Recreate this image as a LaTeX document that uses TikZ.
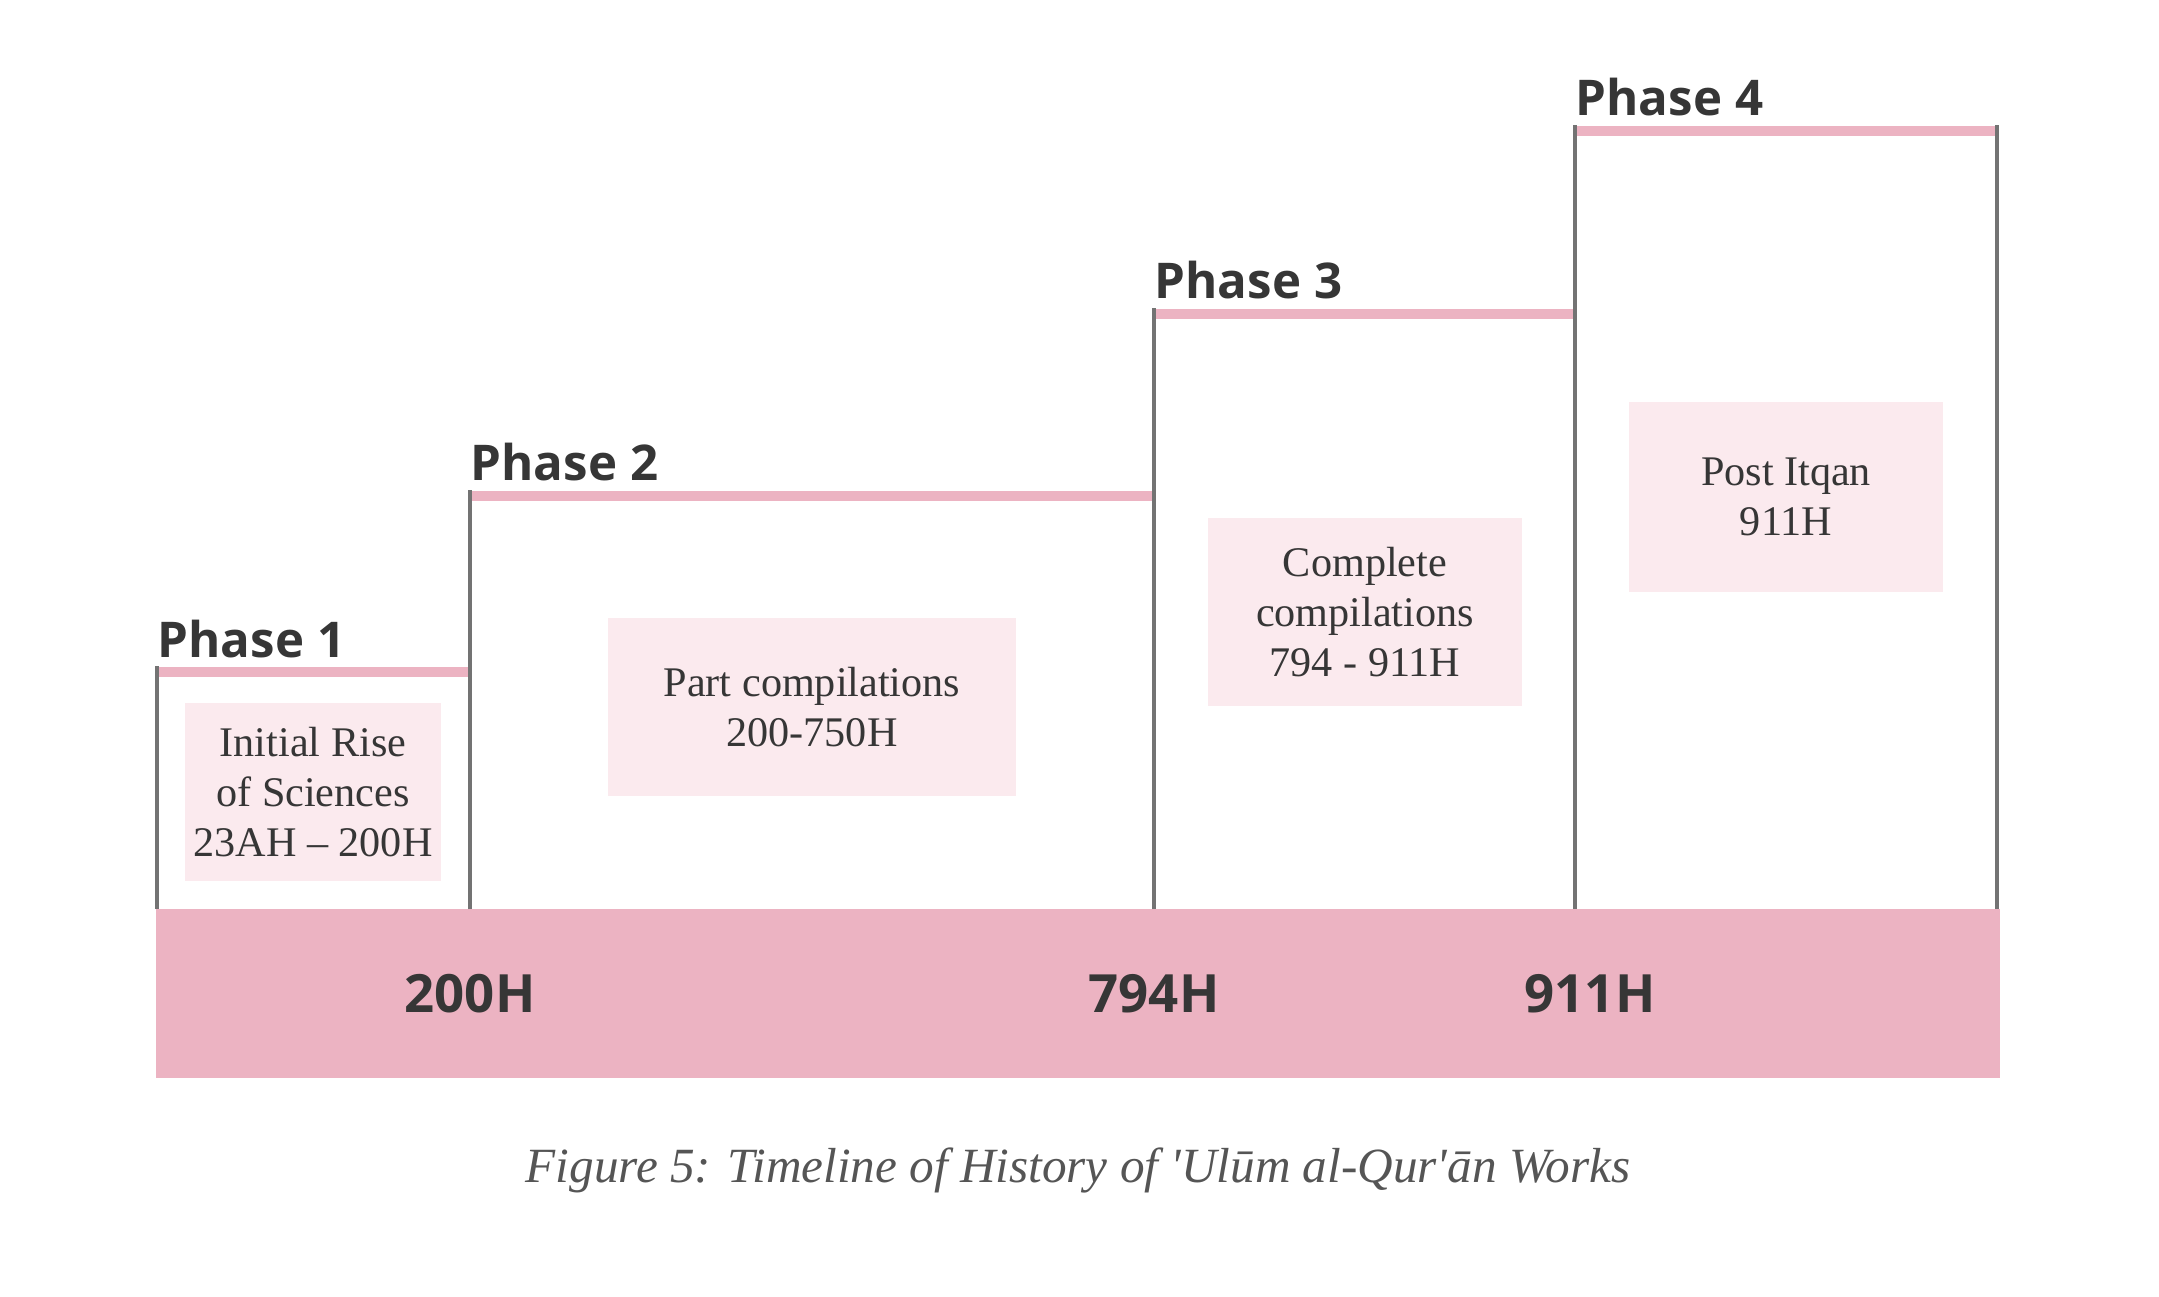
\documentclass[tikz,border=0pt]{standalone}
\usepackage{fontspec}
\setmainfont{Liberation Serif}
\newfontfamily\headfont{Open Sans}
\usetikzlibrary{positioning}
\definecolor{band}{HTML}{ECB3C2}
\definecolor{erafill}{HTML}{FBEAEE}
\definecolor{stemgray}{HTML}{737373}
\definecolor{ink}{HTML}{363636}
\definecolor{captext}{HTML}{555555}
\tikzset{
  phase/.style={anchor=base west, inner sep=0pt, text=ink,
                font=\headfont\bfseries\fontsize{14}{16}\selectfont},
  era/.style={fill=erafill, align=center, inner sep=0pt, text=ink,
              font=\fontsize{12}{14.2}\selectfont},
  year/.style={inner sep=0pt, text=ink, font=\headfont\bfseries\fontsize{15}{17}\selectfont},
  stem/.style={draw=stemgray, line width=1.1pt},
  topline/.style={draw=band, line width=1mm},
}

\begin{document}
\begin{tikzpicture}[x=0.01cm, y=-0.01cm]
  \useasboundingbox (0,0) rectangle (2159,1297);
  % timeline band
  \fill[band] (156,909) rectangle (2000,1078);
  % phase steps
  \foreach \xa/\xb/\ytop/\n in {157/470/672/1, 470/1154/496/2, 1154/1575/314/3, 1575/1997/131/4} {
    \draw[topline] (\xa,\ytop) -- (\xb,\ytop);
    \draw[stem] (\xa,909) -- (\xa,\ytop-6);
    \node[phase] (phase\n) at (\xa,\ytop-15) {Phase \n};
  }
  \draw[stem] (1997,909) -- (1997,125);
  % eras
  \node[era, minimum width=2.56cm, minimum height=1.77cm] (era1) at (313,792)
    {Initial Rise\\of Sciences\\23AH -- 200H};
  \node[era, minimum width=4.07cm, minimum height=1.77cm] (era2) at (812,707)
    {Part compilations\\200-750H};
  \node[era, minimum width=3.14cm, minimum height=1.88cm] (era3) at (1365,612)
    {Complete\\compilations\\794 - 911H};
  \node[era, minimum width=3.14cm, minimum height=1.89cm] (era4) at (1786,497)
    {Post Itqan\\911H};
  % years on the band
  \node[year] (y200) at (470,994) {200H};
  \node[year] (y794) at (1154,994) {794H};
  \node[year] (y911) at (1590,994) {911H};
  % caption
  \node[text=captext, font=\itshape\fontsize{14}{16}\selectfont] (caption) at (1078,1170)
    {Figure 5: Timeline of History of \textquotesingle Ulūm al-Qur\textquotesingle ān Works};
\end{tikzpicture}
\end{document}
